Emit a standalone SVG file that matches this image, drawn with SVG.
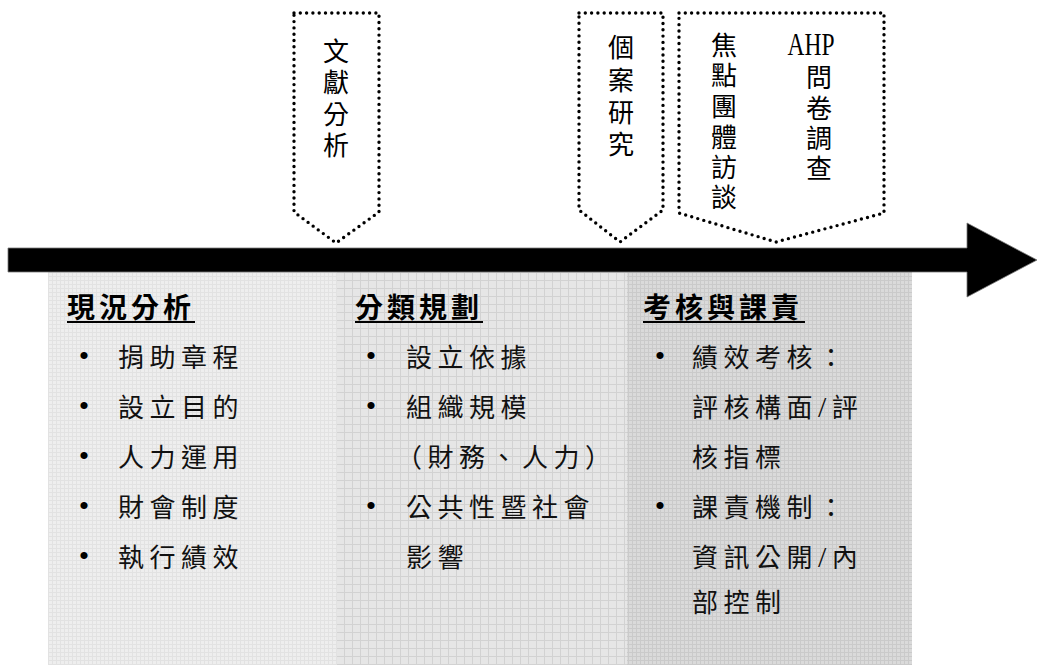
<svg xmlns="http://www.w3.org/2000/svg" width="1037" height="665" viewBox="0 0 1037 665">
<style>
.callout{fill:none;stroke:#000;stroke-width:3.4;stroke-linecap:round;stroke-dasharray:0 6.3;stroke-linejoin:round}
.vt{font-family:"Liberation Serif","Noto Sans CJK TC",serif;font-size:26px;fill:#000;text-anchor:middle}
.hd{font-family:"Liberation Serif","Noto Sans CJK TC",serif;font-size:28px;font-weight:bold;letter-spacing:4px;fill:#000}
.it{font-family:"Liberation Serif","Noto Sans CJK TC",serif;font-size:26px;letter-spacing:5.5px;fill:#111}
.sl{font-size:30px}
.bl{font-family:"Liberation Serif",serif;font-size:30px;fill:#000;text-anchor:middle}
.ul{stroke:#000;stroke-width:2}
</style>
<defs>
<pattern id="p1" width="4" height="4" patternUnits="userSpaceOnUse">
<rect width="4" height="4" fill="#eeeeee"/>
<rect width="4" height="1" fill="#e2e2e2"/>
<rect width="1" height="4" fill="#e2e2e2"/>
</pattern>
<pattern id="p2" width="8" height="8" patternUnits="userSpaceOnUse">
<rect width="8" height="8" fill="#e6e6e6"/>
<rect width="8" height="1" fill="#d2d2d2"/>
<rect width="1" height="8" fill="#d2d2d2"/>
</pattern>
<pattern id="p3" width="4" height="4" patternUnits="userSpaceOnUse">
<rect width="4" height="4" fill="#dadada"/>
<rect width="4" height="1" fill="#cacaca"/>
<rect width="1" height="4" fill="#cacaca"/>
</pattern>
</defs>

<g id="panel-left">
<rect x="48" y="272" width="289" height="393" fill="url(#p1)"/>
<text class="hd" x="67" y="318">現況分析</text>
<line class="ul" x1="67" y1="322" x2="195" y2="322"/>
<text class="bl" x="84" y="366">•</text><text class="it" x="118" y="367">捐助章程</text>
<text class="bl" x="84" y="416">•</text><text class="it" x="118" y="417">設立目的</text>
<text class="bl" x="84" y="466">•</text><text class="it" x="118" y="467">人力運用</text>
<text class="bl" x="84" y="516">•</text><text class="it" x="118" y="517">財會制度</text>
<text class="bl" x="84" y="566">•</text><text class="it" x="118" y="567">執行績效</text>
</g>

<g id="panel-middle">
<rect x="337" y="272" width="290" height="393" fill="url(#p2)"/>
<text class="hd" x="355" y="318">分類規劃</text>
<line class="ul" x1="355" y1="322" x2="483" y2="322"/>
<text class="bl" x="371" y="366">•</text><text class="it" x="406" y="367">設立依據</text>
<text class="bl" x="371" y="416">•</text><text class="it" x="406" y="417">組織規模</text>
<text class="it" x="396" y="467">（財務、人力）</text>
<text class="bl" x="371" y="516">•</text><text class="it" x="406" y="517">公共性暨社會</text>
<text class="it" x="406" y="567">影響</text>
</g>

<g id="panel-right">
<rect x="627" y="272" width="285" height="393" fill="url(#p3)"/>
<text class="hd" x="643" y="318">考核與課責</text>
<line class="ul" x1="643" y1="322" x2="805" y2="322"/>
<text class="bl" x="660" y="366">•</text><text class="it" x="692" y="367">績效考核：</text>
<text class="it" x="692" y="417">評核構面<tspan class="sl">/</tspan>評</text>
<text class="it" x="692" y="467">核指標</text>
<text class="bl" x="660" y="516">•</text><text class="it" x="692" y="517">課責機制：</text>
<text class="it" x="692" y="567">資訊公開<tspan class="sl">/</tspan>內</text>
<text class="it" x="692" y="612">部控制</text>
</g>

<g id="connectors">
<path id="timeline-arrow" d="M8,248 H967 V223 L1037,260 L967,297 V272 H8 Z" fill="#000" stroke="#777" stroke-width="0.8"/>
</g>

<g id="method-literature">
<path class="callout" d="M294,13 H379 V212 L336,243 L294,212 Z"/>
<text class="vt" x="336" y="61">文</text>
<text class="vt" x="336" y="92">獻</text>
<text class="vt" x="336" y="124">分</text>
<text class="vt" x="336" y="155">析</text>
</g>

<g id="method-case">
<path class="callout" d="M579,13 H663 V210 L620,242 L579,210 Z"/>
<text class="vt" x="621" y="57">個</text>
<text class="vt" x="621" y="90">案</text>
<text class="vt" x="621" y="122">研</text>
<text class="vt" x="621" y="154">究</text>
</g>

<g id="method-focus-ahp">
<path class="callout" d="M679,13 H884 V213 L776,242 L679,213 Z"/>
<text class="vt" x="724" y="55">焦</text>
<text class="vt" x="724" y="85">點</text>
<text class="vt" x="724" y="116">團</text>
<text class="vt" x="724" y="147">體</text>
<text class="vt" x="724" y="177">訪</text>
<text class="vt" x="724" y="207">談</text>
<text class="vt" x="811" y="55" style="font-size:32px" textLength="47" lengthAdjust="spacingAndGlyphs">AHP</text>
<text class="vt" x="819" y="87">問</text>
<text class="vt" x="819" y="118">卷</text>
<text class="vt" x="819" y="148">調</text>
<text class="vt" x="819" y="178">查</text>
</g>
</svg>
